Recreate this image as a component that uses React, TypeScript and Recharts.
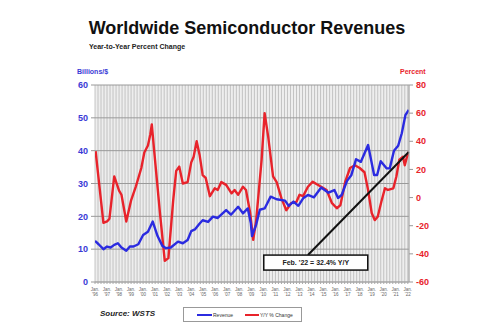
import { ComposedChart, Line, XAxis, YAxis, CartesianGrid, ReferenceLine, ReferenceDot } from 'recharts';

// monthly revenue, $ billions (3-month average)
const revenueYears = [
  1996.0, 1996.3, 1996.7, 1997.0, 1997.3, 1997.6, 1997.9, 1998.2, 1998.6, 1998.9,
  1999.2, 1999.6, 2000.0, 2000.4, 2000.8, 2001.2, 2001.6, 2001.9, 2002.3, 2002.9,
  2003.3, 2003.7, 2004.0, 2004.3, 2004.7, 2004.95, 2005.4, 2005.8, 2006.2, 2006.9,
  2007.3, 2007.9, 2008.3, 2008.7, 2008.95, 2009.05, 2009.4, 2009.7, 2010.1, 2010.6,
  2011.1, 2011.8, 2012.1, 2012.5, 2012.9, 2013.3, 2013.7, 2014.2, 2014.8, 2015.4,
  2015.9, 2016.2, 2016.5, 2016.95, 2017.3, 2017.7, 2018.1, 2018.7, 2019.2, 2019.45,
  2019.75, 2020.25, 2020.5, 2020.85, 2021.2, 2021.5, 2021.8, 2022.08,
];
const revenueValues = [
  12.5, 11.5, 10.0, 10.8, 10.5, 11.3, 11.8, 10.5, 9.5, 10.8,
  10.8, 11.5, 14.3, 15.3, 18.4, 14.0, 11.0, 10.3, 10.5, 12.3,
  11.8, 12.8, 15.5, 16.0, 17.8, 18.8, 18.3, 19.9, 19.5, 21.9,
  20.5, 22.9, 20.9, 22.4, 18.0, 14.0, 17.5, 22.0, 22.4, 26.0,
  25.2, 24.8, 23.2, 24.5, 23.2, 25.5, 26.5, 25.8, 28.8, 27.2,
  28.0, 25.6, 26.5, 30.8, 32.5, 37.4, 36.6, 41.7, 32.6, 32.6,
  36.8, 34.6, 34.6, 40.0, 41.5, 45.3, 50.8, 52.4,
];

// year-to-year percent change
const changeYears = [
  1996.05, 1996.7, 1997.0, 1997.2, 1997.6, 1998.0, 1998.2, 1998.6, 1999.0, 1999.4,
  1999.85, 2000.1, 2000.4, 2000.6, 2000.72, 2000.9, 2001.4, 2001.8, 2002.1, 2002.5,
  2002.75, 2003.0, 2003.3, 2003.7, 2004.0, 2004.2, 2004.45, 2004.7, 2004.95, 2005.2,
  2005.55, 2005.95, 2006.2, 2006.5, 2006.9, 2007.35, 2007.6, 2007.9, 2008.3, 2008.55,
  2008.9, 2009.15, 2009.4, 2009.85, 2010.1, 2010.4, 2010.8, 2011.1, 2011.5, 2011.9,
  2012.3, 2012.75, 2013.0, 2013.3, 2013.7, 2014.1, 2014.4, 2014.8, 2015.25, 2015.7,
  2016.1, 2016.4, 2016.8, 2017.2, 2017.6, 2018.0, 2018.4, 2018.7, 2019.0, 2019.25,
  2019.5, 2019.8, 2020.1, 2020.35, 2020.8, 2021.05, 2021.3, 2021.6, 2021.75, 2021.9,
  2022.08,
];
const changeValues = [
  33, -18, -17, -15, 15, 5, 2, -17, -2, 8,
  21, 32, 37, 45, 52, 35, -11, -45, -43, -2,
  19, 22, 10, 11, 25, 29, 40, 30, 16, 14,
  1, 6.6, 5.4, 11, 9, 3, 5.4, 2, 7.7, 5.4,
  -11, -30, -16, 27, 60, 43, 15, 11, -0.6, -9,
  -4, -3, 2, 1, 7.7, 11.3, 9.6, 7.7, 5.4, -4,
  -7.6, -5.3, 11.3, 21, 23, 21, 18, 5.4, -11, -16,
  -13.6, -3, 6.6, 5.4, 6.6, 15, 27, 29, 23, 28,
  32.4,
];

const yearLabels = [
  '96', '97', '98', '99', '00', '01', '02', '03', '04', '05', '06', '07', '08', '09',
  '10', '11', '12', '13', '14', '15', '16', '17', '18', '19', '20', '21', '22',
];
const leftTicks = [0, 10, 20, 30, 40, 50, 60];
const rightTicks = [-60, -40, -20, 0, 20, 40, 60, 80];

const revenueData = revenueYears.map((t, i) => ({ t, revenue: revenueValues[i] }));
const changeData = changeYears.map((t, i) => ({ t, change: changeValues[i] }));

// quarterly ticks for the dense vertical grid, labels only on January
const quarterTicks: number[] = [];
yearLabels.forEach((_, i) => {
  for (let q = 0; q < 4; q++) {
    if (i === yearLabels.length - 1 && q > 0) break;
    quarterTicks.push(1996 + i + q * 0.25);
  }
});

const BLUE = '#2b2be0';
const RED = '#e8232b';
const FONT = '"Liberation Sans", Arial, sans-serif';

const YearTick = ({ x, y, payload }: any) => {
  const v = payload.value;
  if (Math.abs(v - Math.round(v)) > 0.01) return <g />;
  const label = yearLabels[Math.round(v) - 1996];
  return (
    <text x={x} y={y} textAnchor="middle" fontSize={4.5} fill="#666" fontFamily={FONT}>
      <tspan x={x} dy={5}>Jan.</tspan>
      <tspan x={x} dy={5}>'{label}</tspan>
    </text>
  );
};

const NoteBox = ({ cx, cy }: any) => (
  <g>
    <rect x={cx - 52} y={cy - 7.5} width={104} height={15} fill="#fff" stroke="#111" strokeWidth={1.5} />
    <text x={cx} y={cy + 2.5} textAnchor="middle" fontSize={7} fontWeight="bold" fill="#222" fontFamily={FONT}>
      Feb. '22 = 32.4% Y/Y
    </text>
  </g>
);

export default function App() {
  return (
    <div style={{ position: 'absolute', left: 0, top: 0, width: 500, height: 333, background: '#fff', fontFamily: FONT }}>
      <div style={{ position: 'absolute', left: 0, width: 500, top: 18, textAlign: 'center', fontSize: 18, fontWeight: 'bold', color: '#111' }}>
        <span style={{ position: 'relative', left: -3 }}>Worldwide Semiconductor Revenues</span>
      </div>
      <div style={{ position: 'absolute', left: 89, top: 43, fontSize: 7, fontWeight: 'bold', color: '#222' }}>
        Year-to-Year Percent Change
      </div>
      <div style={{ position: 'absolute', left: 77, top: 68, fontSize: 7, fontWeight: 'bold', color: '#3a3ad6' }}>Billions/$</div>
      <div style={{ position: 'absolute', left: 400, top: 68, fontSize: 7, fontWeight: 'bold', color: RED }}>Percent</div>

      <ComposedChart width={500} height={333} margin={{ top: 85, right: 61, bottom: 31, left: 65 }}>
        <CartesianGrid horizontal={false} fill="#eeeeee" stroke="#b8b8b8" strokeWidth={0.8} />
        <CartesianGrid vertical={false} stroke="#9a9a9a" strokeWidth={1} />
        <XAxis
          dataKey="t"
          type="number"
          domain={[1996, 2022.1]}
          ticks={quarterTicks}
          interval={0}
          allowDataOverflow
          tick={<YearTick />}
          tickSize={2}
          tickLine={{ stroke: '#aaa' }}
          axisLine={{ stroke: '#aaa' }}
          height={20}
        />
        <YAxis
          domain={[0, 60]}
          ticks={leftTicks}
          width={30}
          tickSize={4}
          tickMargin={3}
          tickLine={{ stroke: '#999' }}
          axisLine={false}
          tick={{ fill: '#3a3ad6', fontSize: 9, fontWeight: 'bold', fontFamily: FONT }}
        />
        <YAxis
          yAxisId="right"
          orientation="right"
          domain={[-60, 80]}
          ticks={rightTicks}
          width={30}
          tickSize={4}
          tickMargin={3}
          tickLine={{ stroke: '#999' }}
          axisLine={{ stroke: '#aaa' }}
          tick={{ fill: RED, fontSize: 9, fontWeight: 'bold', fontFamily: FONT }}
        />
        <Line data={changeData} yAxisId="right" dataKey="change" type="linear" stroke={RED} strokeWidth={2.4} strokeLinejoin="round" dot={false} isAnimationActive={false} />
        <Line data={revenueData} dataKey="revenue" type="linear" stroke={BLUE} strokeWidth={2.4} strokeLinejoin="round" dot={false} isAnimationActive={false} />
        <ReferenceLine
          yAxisId="right"
          segment={[{ x: 2013.7, y: -40.8 }, { x: 2022.08, y: 32.4 }]}
          stroke="#111"
          strokeWidth={2}
        />
        <ReferenceDot yAxisId="right" x={2014.35} y={-46.2} r={1} shape={<NoteBox />} />
      </ComposedChart>

      <div style={{ position: 'absolute', left: 183, top: 307, width: 119, height: 15, border: '1px solid #999', boxSizing: 'border-box', fontSize: 5, color: '#333', display: 'flex', alignItems: 'center' }}>
        <span style={{ display: 'inline-block', marginLeft: 13, width: 15, height: 2, background: BLUE }} />
        <span style={{ marginLeft: 1 }}>Revenue</span>
        <span style={{ display: 'inline-block', marginLeft: 12, width: 14, height: 2, background: RED }} />
        <span style={{ marginLeft: 1 }}>Y/Y % Change</span>
      </div>
      <div style={{ position: 'absolute', left: 100, top: 309, fontSize: 8, fontWeight: 'bold', fontStyle: 'italic', color: '#222' }}>
        Source: WSTS
      </div>
    </div>
  );
}
